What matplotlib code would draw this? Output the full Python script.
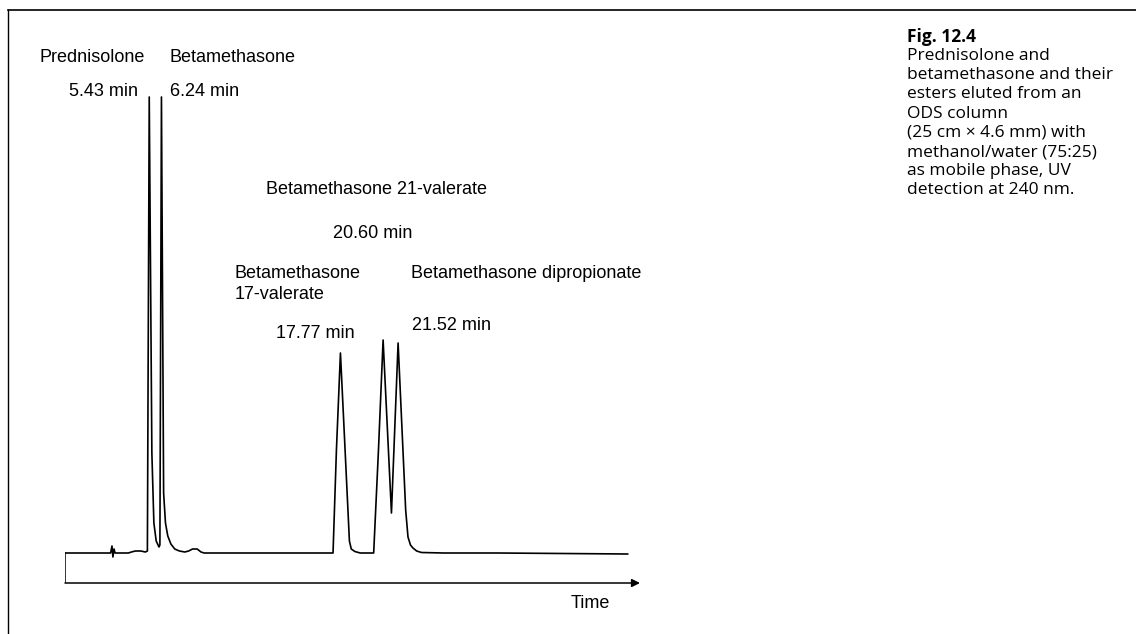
import matplotlib.pyplot as plt
from matplotlib.lines import Line2D

# chromatogram trace (time in min, detector signal, arbitrary units)
time_min = [0.00, 2.95, 3.04, 3.10, 3.17, 3.24, 4.10, 4.30, 4.55, 4.90, 5.20, 5.33,
            5.45, 5.62, 5.75, 5.90, 6.08, 6.14, 6.24, 6.38, 6.50, 6.65, 6.85, 7.10,
            7.40, 7.75, 8.00, 8.25, 8.55, 8.80, 9.00,
            17.34, 17.56, 17.82, 18.12, 18.40, 18.52, 18.75, 19.10,
            19.97, 20.28, 20.58, 21.12, 21.55, 22.04, 22.19, 22.35, 22.51, 22.75,
            23.06, 24.50, 28.00, 36.40]
signal = [0, 0, 7, -4, 4, 0, 0, 1, 2, 2, 1, 2,
          456, 100, 30, 12, 6, 8, 456, 60, 30, 17, 9, 4,
          2, 1, 2, 4, 4, 1, 0,
          0, 103, 200, 103, 12, 4, 1.5, 0,
          0, 103, 213, 40, 210, 43, 16, 8, 5, 2,
          0.5, 0, 0, -1]

# peak labels: (text, time of label, signal level of label, alignment)
peak_labels = [
    ("Prednisolone", -1.62, 495, "left"),
    ("Betamethasone", 6.79, 495, "left"),
    ("5.43 min", 4.72, 461, "right"),
    ("6.24 min", 6.79, 461, "left"),
    ("Betamethasone 21-valerate", 12.99, 364, "left"),
    ("20.60 min", 17.32, 320, "left"),
    ("Betamethasone\n17-valerate", 10.99, 269, "left"),
    ("Betamethasone dipropionate", 22.37, 279, "left"),
    ("17.77 min", 13.64, 220, "left"),
    ("21.52 min", 22.43, 227, "left"),
]

caption = ["Prednisolone and",
           "betamethasone and their",
           "esters eluted from an",
           "ODS column",
           "(25 cm \u00d7 4.6 mm) with",
           "methanol/water (75:25)",
           "as mobile phase, UV",
           "detection at 240 nm."]

W, H = 1136, 634
fig = plt.figure(figsize=(W / 100, H / 100), dpi=100)

# page frame (top and left edges only)
fig.add_artist(Line2D([8 / W, 1.0], [1 - 10 / H, 1 - 10 / H], color="black", lw=1.2))
fig.add_artist(Line2D([8 / W, 8 / W], [0.0, 1 - 10 / H], color="black", lw=1.0))

ax = fig.add_axes([65 / W, (H - 583) / H, (640 - 65) / W, 530 / H])
ax.set_xlim(0, 37.2)
ax.set_ylim(-30, 500)
ax.axis("off")

ax.plot(time_min, signal, color="black", lw=1.2)

# time axis with arrow, and the short left edge
ax.plot([0, 0], [-30, 0], color="black", lw=1.1)
ax.annotate("", xy=(37.2, -30), xytext=(0, -30),
            arrowprops=dict(arrowstyle="-|>", color="black", lw=1.1,
                            mutation_scale=12, shrinkA=0, shrinkB=0))
ax.text(34.0, -51, "Time", ha="center", va="center",
        family="Liberation Sans", fontsize=13)

for txt, tx, ty, ha in peak_labels:
    ax.text(tx, ty, txt, ha=ha, va="center", family="Liberation Sans",
            fontsize=13, linespacing=1.25)

# figure caption on the right
fig.text(907 / W, 1 - 37 / H, "Fig. 12.4", ha="left", va="center",
         family="Open Sans", fontsize=12.5, fontweight="bold")
for i, line in enumerate(caption):
    fig.text(907 / W, 1 - (56 + 19.2 * i) / H, line, ha="left", va="center",
             family="Open Sans", fontsize=12.5)

fig.savefig("out.png", dpi=100)
